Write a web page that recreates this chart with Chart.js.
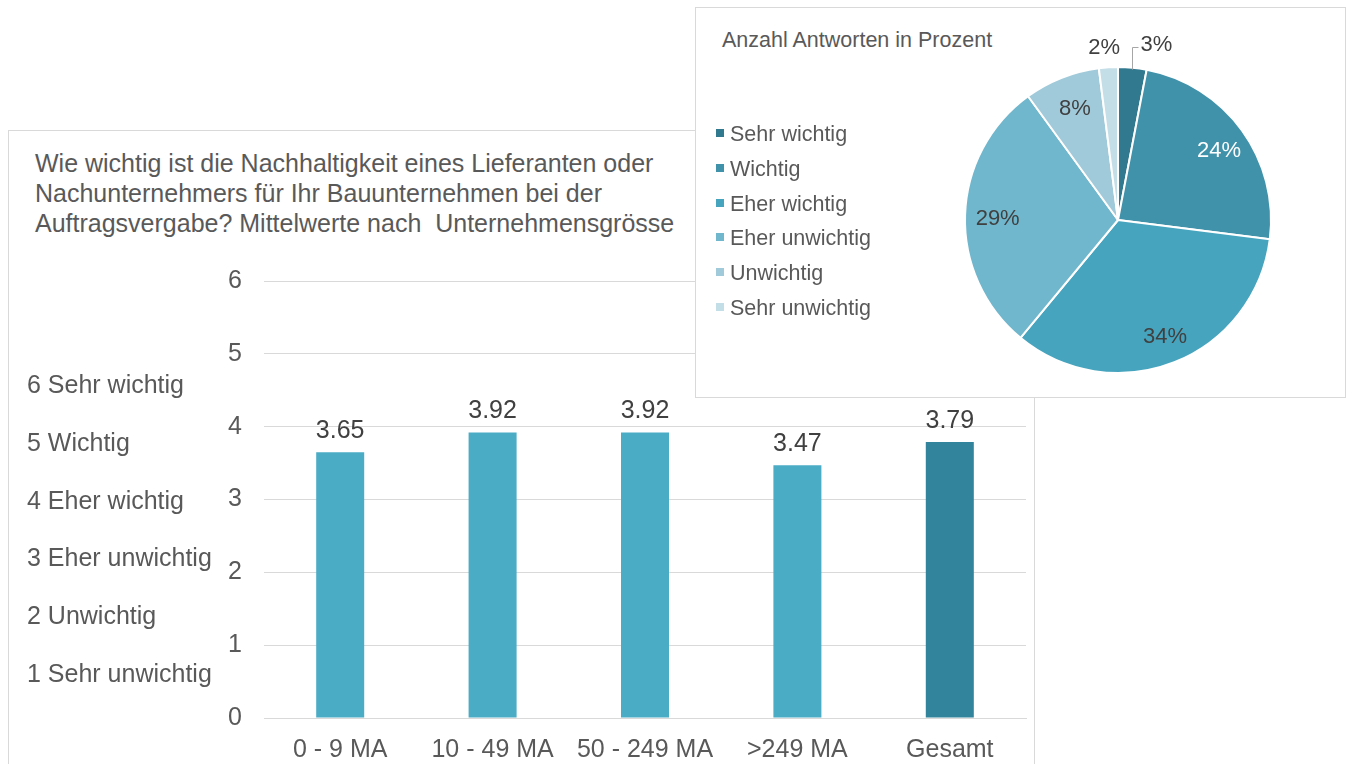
<!DOCTYPE html>
<html>
<head>
<meta charset="utf-8">
<style>
  html, body { margin: 0; padding: 0; background: #fff; }
  body { width: 1352px; height: 764px; position: relative; overflow: hidden; font-family: "Liberation Sans", Arial, sans-serif; color: #595959; }
  .box { position: absolute; background: #fff; border: 1px solid #d9d9d9; box-sizing: border-box; }
  #barBox { left: 8px; top: 130px; width: 1027px; height: 700px; }
  #pieBox { left: 695px; top: 7px; width: 651px; height: 391px; }
  #barTitle { position: absolute; left: 26px; top: 17px; font-size: 25px; line-height: 30px; color: #595959; white-space: nowrap; }
  .scaleLbl { position: absolute; left: 18px; font-size: 25px; line-height: 24px; color: #595959; white-space: nowrap; }
  #pieTitle { position: absolute; left: 26px; top: 21px; font-size: 21.5px; line-height: 22px; color: #595959; white-space: nowrap; }
  .leg { position: absolute; left: 20px; font-size: 21.5px; line-height: 21px; color: #595959; white-space: nowrap; }
  .leg i { display: inline-block; width: 8px; height: 8px; margin-right: 6px; vertical-align: 4px; }
  canvas { position: absolute; left: 0; top: 0; }
</style>
</head>
<body>
<div id="barBox" class="box">
  <div id="barTitle">Wie wichtig ist die Nachhaltigkeit eines Lieferanten oder<br>Nachunternehmers für Ihr Bauunternehmen bei der<br>Auftragsvergabe? Mittelwerte nach&nbsp; Unternehmensgrösse</div>
  <div style="position:absolute;left:0;top:0;width:1025px;height:634px;"><canvas id="barChart"></canvas></div>
</div>
<div id="pieBox" class="box">
  <div id="pieTitle">Anzahl Antworten in Prozent</div>
  <div style="position:absolute;left:0;top:0;width:649px;height:389px;"><canvas id="pieChart"></canvas></div>
</div>

<script src="https://cdn.jsdelivr.net/npm/chart.js@4/dist/chart.umd.min.js"></script>
<script>
// Mittelwerte nach Unternehmensgrösse
const groups = ['0 - 9 MA', '10 - 49 MA', '50 - 249 MA', '>249 MA', 'Gesamt'];
const means = [3.65, 3.92, 3.92, 3.47, 3.79];
const barColors = ['#4BACC6', '#4BACC6', '#4BACC6', '#4BACC6', '#31849B'];
const yTicks = [0, 1, 2, 3, 4, 5, 6];
const scaleNames = ['6 Sehr wichtig', '5 Wichtig', '4 Eher wichtig', '3 Eher unwichtig', '2 Unwichtig', '1 Sehr unwichtig'];

// Anzahl Antworten in Prozent
const answers = ['Sehr wichtig', 'Wichtig', 'Eher wichtig', 'Eher unwichtig', 'Unwichtig', 'Sehr unwichtig'];
const shares = [3, 24, 34, 29, 8, 2];
const pieColors = ['#31798F', '#4092AA', '#47A4BE', '#70B6CC', '#A0CADA', '#C4DEE7'];

const font = 'Liberation Sans, Arial, sans-serif';
const textGrey = '#595959';

// scale names down the left side
const barBox = document.getElementById('barBox');
scaleNames.forEach(function (t, i) {
  const d = document.createElement('div');
  d.className = 'scaleLbl';
  d.style.top = (241 + i * 57.8) + 'px';
  d.textContent = t;
  barBox.appendChild(d);
});

// pie legend
const pieBox = document.getElementById('pieBox');
answers.forEach(function (t, i) {
  const d = document.createElement('div');
  d.className = 'leg';
  d.style.top = (116 + i * 34.8) + 'px';
  d.innerHTML = '<i style="background:' + pieColors[i] + '"></i>' + t;
  pieBox.appendChild(d);
});

const barValueLabels = {
  id: 'barValueLabels',
  afterDatasetsDraw(chart) {
    const ctx = chart.ctx;
    const meta = chart.getDatasetMeta(0);
    ctx.save();
    ctx.font = '25px ' + font;
    ctx.fillStyle = '#404040';
    ctx.textAlign = 'center';
    ctx.textBaseline = 'middle';
    meta.data.forEach(function (bar, i) {
      ctx.fillText(means[i].toFixed(2), bar.x, bar.y - 21);
    });
    ctx.restore();
  }
};

new Chart(document.getElementById('barChart'), {
  type: 'bar',
  data: {
    labels: groups,
    datasets: [{
      data: means,
      backgroundColor: barColors,
      categoryPercentage: 1,
      barPercentage: 0.315
    }]
  },
  options: {
    responsive: true,
    maintainAspectRatio: false,
    animation: false,
    layout: { padding: { left: 0, top: 150, right: 8, bottom: 0 } },
    plugins: { legend: { display: false }, tooltip: { enabled: false } },
    scales: {
      x: {
        grid: { display: false },
        border: { color: '#d9d9d9', width: 1 },
        ticks: { color: textGrey, font: { family: font, size: 25 }, padding: 9, maxRotation: 0 },
        afterFit(scale) { scale.height = 47; }
      },
      y: {
        min: 0,
        max: 6,
        afterBuildTicks(scale) { scale.ticks = yTicks.map(v => ({ value: v })); },
        grid: { color: '#d9d9d9', drawTicks: false },
        border: { display: false },
        ticks: { color: textGrey, font: { family: font, size: 25 }, padding: 22 },
        afterFit(scale) { scale.width = 255; }
      }
    }
  },
  plugins: [barValueLabels]
});

const pieValueLabels = {
  id: 'pieValueLabels',
  afterDatasetsDraw(chart) {
    const ctx = chart.ctx;
    const meta = chart.getDatasetMeta(0);
    ctx.save();
    ctx.font = '22px ' + font;
    ctx.textBaseline = 'middle';
    meta.data.forEach(function (arc, i) {
      const mid = (arc.startAngle + arc.endAngle) / 2;
      const r = arc.outerRadius;
      const text = shares[i] + '%';
      const cos = Math.cos(mid), sin = Math.sin(mid);
      ctx.fillStyle = i === 1 ? '#ffffff' : '#404040';
      if (shares[i] < 5) {
        if (i === 0) {
          // small first slice: label pulled up and right with a leader line
          const sx = Math.round(arc.x + r * cos) + 0.5;
          const sy = arc.y + r * sin + 2;
          const ty = Math.round(arc.y - r * 1.13) + 0.5;
          ctx.strokeStyle = '#a6a6a6';
          ctx.lineWidth = 1;
          ctx.beginPath();
          ctx.moveTo(sx, sy);
          ctx.lineTo(sx, ty);
          ctx.lineTo(sx + 6, ty);
          ctx.stroke();
          ctx.textAlign = 'left';
          ctx.fillText(text, sx + 8, ty - 3);
        } else {
          ctx.textAlign = 'center';
          ctx.fillText(text, arc.x + r * 1.13 * cos - 3, arc.y + r * 1.13 * sin);
        }
      } else {
        const k = 0.8;
        ctx.textAlign = 'center';
        ctx.fillText(text, arc.x + r * k * cos + 2, arc.y + r * k * sin + 3);
      }
    });
    ctx.restore();
  }
};

new Chart(document.getElementById('pieChart'), {
  type: 'pie',
  data: {
    labels: answers,
    datasets: [{
      data: shares,
      backgroundColor: pieColors,
      borderColor: '#ffffff',
      borderWidth: 2
    }]
  },
  options: {
    responsive: true,
    maintainAspectRatio: false,
    animation: false,
    layout: { padding: { left: 268, top: 58, right: 73, bottom: 23 } },
    plugins: { legend: { display: false }, tooltip: { enabled: false } }
  },
  plugins: [pieValueLabels]
});
</script>
</body>
</html>
